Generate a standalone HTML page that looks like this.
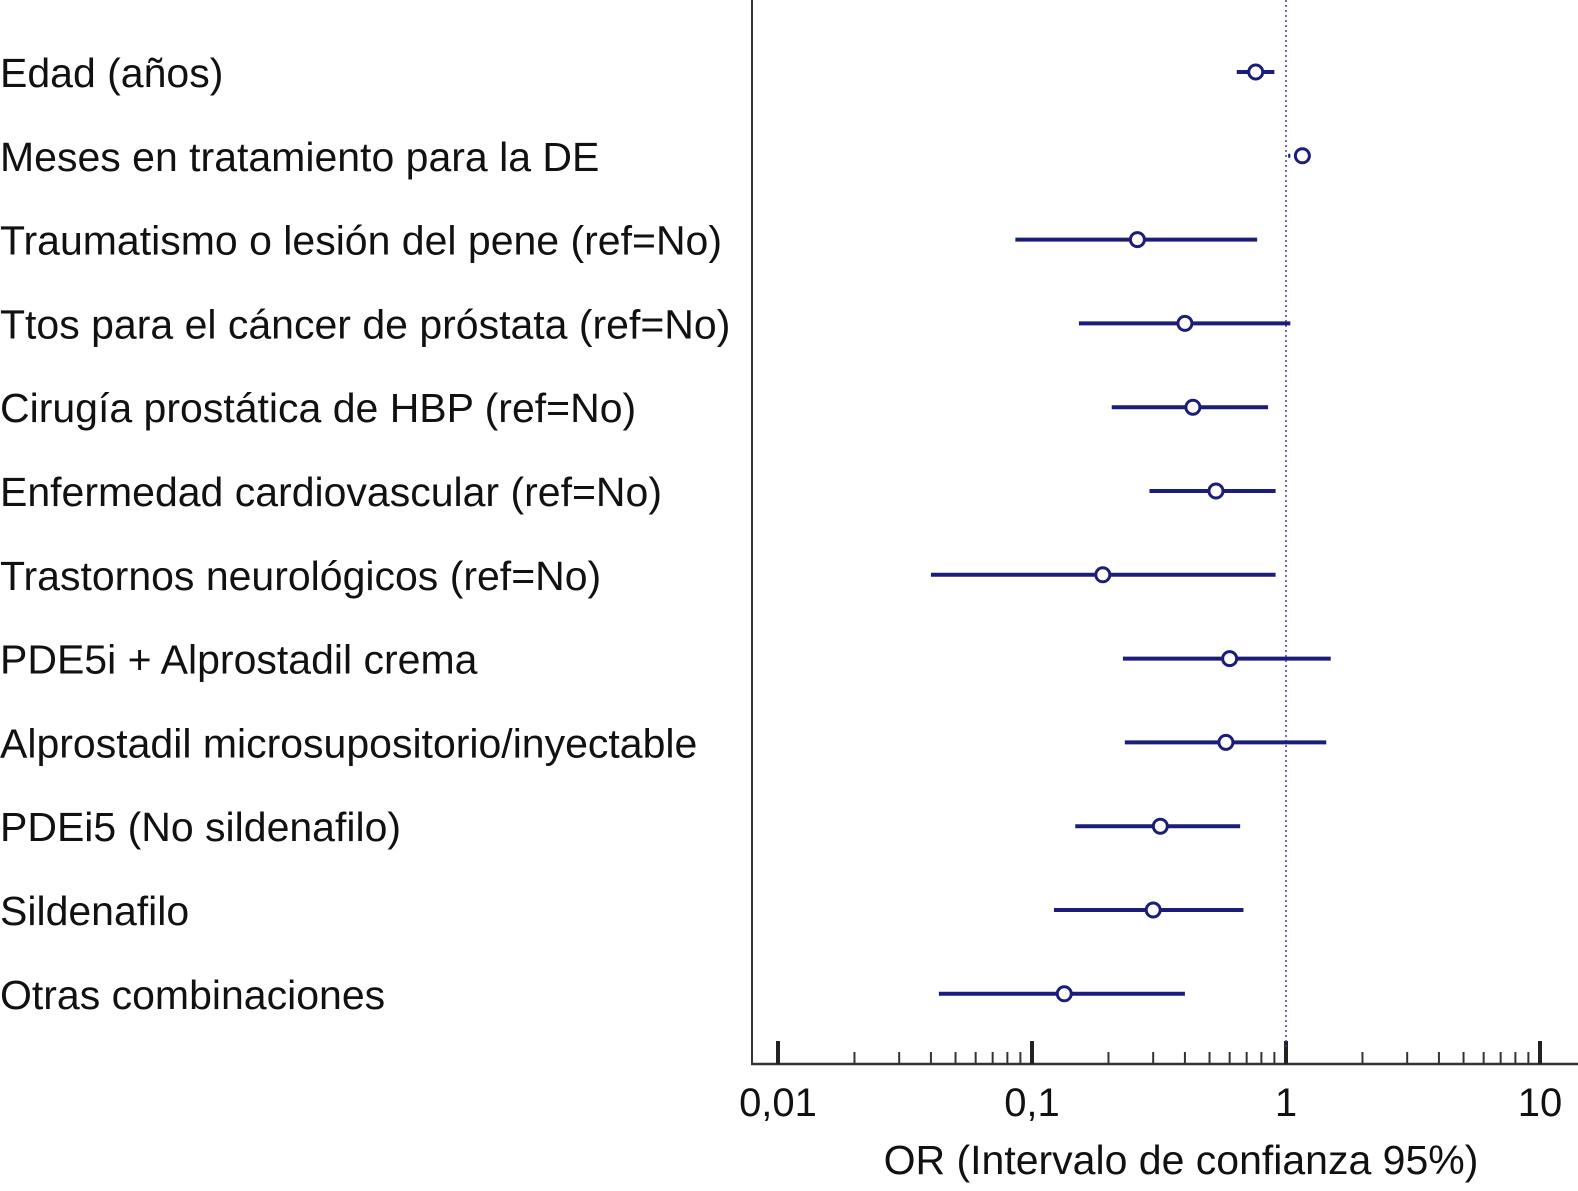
<!DOCTYPE html>
<html><head><meta charset="utf-8"><style>
html,body{margin:0;padding:0;background:#fff;}
svg{display:block;font-family:"Liberation Sans",Arial,sans-serif;}
</style></head><body>
<svg id="chart" width="1578" height="1191"></svg>
<script>
const categories=["Edad (años)","Meses en tratamiento para la DE","Traumatismo o lesión del pene (ref=No)","Ttos para el cáncer de próstata (ref=No)","Cirugía prostática de HBP (ref=No)","Enfermedad cardiovascular (ref=No)","Trastornos neurológicos (ref=No)","PDE5i + Alprostadil crema","Alprostadil microsupositorio/inyectable","PDEi5 (No sildenafilo)","Sildenafilo","Otras combinaciones"];
const orValues=[0.76,1.16,0.26,0.40,0.43,0.53,0.19,0.60,0.58,0.32,0.30,0.134];
const ciLow=[0.64,1.02,0.086,0.153,0.206,0.29,0.040,0.228,0.232,0.148,0.122,0.043];
const ciHigh=[0.90,1.04,0.77,1.04,0.85,0.91,0.91,1.50,1.44,0.66,0.68,0.40];
const tickValues=[0.01,0.1,1,10];
const tickLabels=["0,01","0,1","1","10"];

const NS="http://www.w3.org/2000/svg";
const svg=document.getElementById('chart');
function mk(t,a,p){const e=document.createElementNS(NS,t);for(const k in a)e.setAttribute(k,a[k]);(p||svg).appendChild(e);return e;}
const x=v=>1286+254*Math.log10(v);
const y=i=>72+83.8*i;
const col="#1c1c7a";

const axY=mk('line',{x1:752,y1:0,x2:752,y2:1064,stroke:"#333","stroke-width":2});


const axX=mk('line',{x1:751,y1:1064,x2:1578,y2:1064,stroke:"#333","stroke-width":2.5});



for(let d=0;d<3;d++){const base=Math.pow(10,d-2);for(let m=2;m<=9;m++){
 const tk=mk('line',{x1:x(base*m),y1:1052,x2:x(base*m),y2:1064,stroke:"#333","stroke-width":2});
 
 
}}
tickValues.forEach((v,i)=>{
 const tk=mk('line',{x1:x(v),y1:1041,x2:x(v),y2:1064,stroke:"#222","stroke-width":4});
 
 
 const t=mk('text',{x:x(v),y:1116,"text-anchor":"middle","font-size":40,fill:"#111"});
 t.textContent=tickLabels[i];
 
 
});
const xt=mk('text',{x:1181,y:1174,"text-anchor":"middle","font-size":41,fill:"#111"});
xt.textContent="OR (Intervalo de confianza 95%)";



const ref=mk('line',{x1:x(1),y1:0,x2:x(1),y2:1050,stroke:"#3a3aa0","stroke-width":1.5,"stroke-dasharray":"2,3"});



categories.forEach((c,i)=>{
 const t=mk('text',{x:0,y:y(i)+15,"font-size":41,fill:"#111"});
 t.textContent=c;
 
 
 const l=mk('line',{x1:x(ciLow[i]),y1:y(i),x2:x(ciHigh[i]),y2:y(i),stroke:col,"stroke-width":4});
 
 
 const p=mk('circle',{cx:x(orValues[i]),cy:y(i),r:7,fill:"#fff",stroke:col,"stroke-width":3});
 
 
});
</script>
</body></html>
